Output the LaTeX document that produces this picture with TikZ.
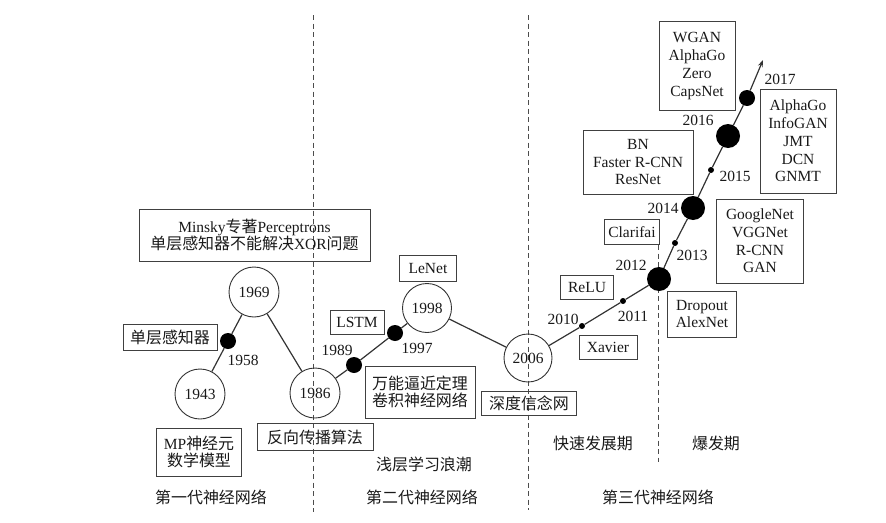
\documentclass[tikz,border=0pt]{standalone}
\usepackage{fontspec}
\setmainfont{Liberation Serif}
\newfontfamily\cjk[Scale=1.03]{Noto Sans CJK SC}
\newcommand{\zhtext}[1]{{\cjk #1}}
\usetikzlibrary{arrows.meta}

\begin{document}
\begin{tikzpicture}[x=1pt,y=-1pt,
  every node/.style={font=\fontsize{15.5}{17.7}\selectfont,text=black!90},
  yearcircle/.style={circle,draw=black!80,line width=0.9pt,minimum size=50pt,inner sep=0pt},
  bigdot/.style={circle,fill=black,minimum size=24pt,inner sep=0pt},
  middot/.style={circle,fill=black,minimum size=16pt,inner sep=0pt},
  tinydot/.style={circle,fill=black,minimum size=6pt,inner sep=0pt},
  infobox/.style={rectangle,draw=black!75,line width=0.8pt,align=center,inner sep=0pt},
  eraline/.style={draw=black!70,line width=0.9pt,dash pattern=on 5pt off 3.5pt},
  timeline/.style={draw=black!80,line width=1.2pt}]

  \useasboundingbox (0,0) rectangle (886,522);

  % era separators
  \draw[eraline] (313,15) -- (313,512);
  \draw[eraline] (528,15) -- (528,510);
  \draw[eraline] (658,245) -- (658,462);

  % years on the time line
  \node [yearcircle] at (200,394) (c1943) {1943};
  \node [yearcircle] at (254,292) (c1969) {1969};
  \node [yearcircle] at (315,393) (c1986) {1986};
  \node [yearcircle,minimum size=49pt] at (427,308) (c1998) {1998};
  \node [yearcircle,minimum size=48pt] at (528,358) (c2006) {2006};

  \node [middot] at (228,341) (d1958) {};
  \node [middot] at (354,365) (d1989) {};
  \node [middot] at (395,333) (d1997) {};
  \node [tinydot] at (582,326) (d2010) {};
  \node [tinydot] at (623,301) (d2011) {};
  \node [bigdot] at (659,279) (d2012) {};
  \node [tinydot] at (675,243) (d2013) {};
  \node [bigdot] at (693,208) (d2014) {};
  \node [tinydot] at (711,170) (d2015) {};
  \node [bigdot] at (728,136) (d2016) {};
  \node [middot] at (747,98) (d2017) {};
  \coordinate (tip) at (763,60);

  \draw[timeline] (c1943) -- (d1958) -- (c1969) -- (c1986) -- (d1989) -- (d1997) -- (c1998) -- (c2006)
    -- (d2010) -- (d2011) -- (d2012) -- (d2013) -- (d2014) -- (d2015) -- (d2016) -- (d2017);
  \draw[timeline,-{Stealth[length=7pt,width=5pt]}] (d2017) -- (tip);

  % year labels
  \node at (243,360) (l1958) {1958};
  \node at (337,350) (l1989) {1989};
  \node at (417,348) (l1997) {1997};
  \node at (563,319) (l2010) {2010};
  \node at (633,316) (l2011) {2011};
  \node at (631,265) (l2012) {2012};
  \node at (692,255) (l2013) {2013};
  \node at (663,208) (l2014) {2014};
  \node at (735,176) (l2015) {2015};
  \node at (698,120) (l2016) {2016};
  \node at (780,79) (l2017) {2017};

  % events
  \node [infobox,minimum width=231pt,minimum height=52pt] at (254.5,235) (minsky)
    {Minsky\zhtext{专著}Perceptrons\\\zhtext{单层感知器不能解决}XOR\zhtext{问题}};
  \node [infobox,minimum width=94pt,minimum height=26pt] at (170,337) (slp) {\zhtext{单层感知器}};
  \node [infobox,minimum width=85pt,minimum height=48pt] at (199,452) (mp) {MP\zhtext{神经元}\\\zhtext{数学模型}};
  \node [infobox,minimum width=116pt,minimum height=27pt] at (315,437) (bp) {\zhtext{反向传播算法}};
  \node [infobox,minimum width=54pt,minimum height=24pt] at (357,322) (lstm) {LSTM};
  \node [infobox,minimum width=110pt,minimum height=52pt] at (420,392) (uat) {\zhtext{万能逼近定理}\\\zhtext{卷积神经网络}};
  \node [infobox,minimum width=57pt,minimum height=26pt] at (428,268) (lenet) {LeNet};
  \node [infobox,minimum width=95pt,minimum height=24pt] at (529,403) (dbn) {\zhtext{深度信念网}};
  \node [infobox,minimum width=53pt,minimum height=24pt] at (587,287) (relu) {ReLU};
  \node [infobox,minimum width=58pt,minimum height=24pt] at (608,347) (xavier) {Xavier};
  \node [infobox,minimum width=69pt,minimum height=46pt] at (702,314) (dropout) {Dropout\\AlexNet};
  \node [infobox,minimum width=55pt,minimum height=25pt] at (632,232) (clarifai) {Clarifai};
  \node [infobox,minimum width=110pt,minimum height=64pt] at (638,162) (bn) {BN\\Faster R-CNN\\ResNet};
  \node [infobox,minimum width=76pt,minimum height=89pt] at (697,66) (wgan) {WGAN\\AlphaGo\\Zero\\CapsNet};
  \node [infobox,minimum width=76pt,minimum height=104pt] at (798,141) (alphago) {AlphaGo\\InfoGAN\\JMT\\DCN\\GNMT};
  \node [infobox,minimum width=87pt,minimum height=84pt] at (760,241) (googlenet) {GoogleNet\\VGGNet\\R-CNN\\GAN};

  % periods
  \node at (424,464) (shallow) {\zhtext{浅层学习浪潮}};
  \node at (593,443) (fast) {\zhtext{快速发展期}};
  \node at (716,443) (boom) {\zhtext{爆发期}};
  \node at (211,497) (gen1) {\zhtext{第一代神经网络}};
  \node at (422,497) (gen2) {\zhtext{第二代神经网络}};
  \node at (658,497) (gen3) {\zhtext{第三代神经网络}};

\end{tikzpicture}
\end{document}
